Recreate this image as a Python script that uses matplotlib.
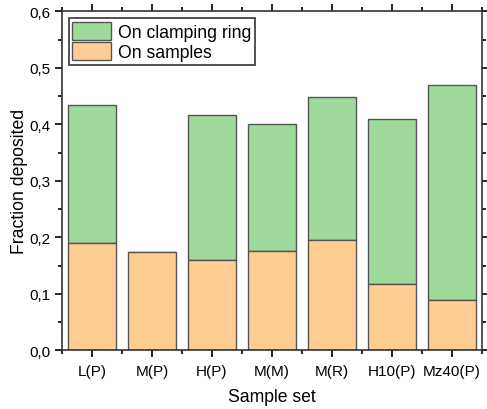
import numpy as np
import matplotlib
matplotlib.use("Agg")
import matplotlib.pyplot as plt
from matplotlib.ticker import MultipleLocator, FuncFormatter

plt.rcParams['font.family'] = ['Liberation Sans', 'DejaVu Sans']

# data
sample_sets = ["L(P)", "M(P)", "H(P)", "M(M)", "M(R)", "H10(P)", "Mz40(P)"]
on_samples = [0.190, 0.174, 0.160, 0.176, 0.196, 0.118, 0.089]
total_deposited = [0.435, 0.174, 0.416, 0.401, 0.448, 0.409, 0.469]

green = "#9fd89b"
orange = "#ffcc91"

x = np.arange(1, len(sample_sets) + 1)
ring = np.array(total_deposited) - np.array(on_samples)

fig = plt.figure(figsize=(4.87, 4.10), dpi=100)
ax = fig.add_axes([0.127, 0.143, 0.863, 0.827])

ax.bar(x, on_samples, width=0.8, color=orange, edgecolor="#555555",
       linewidth=1.0, label="On samples", zorder=2)
ax.bar(x, ring, bottom=on_samples, width=0.8, color=green,
       edgecolor="#555555", linewidth=1.0, label="On clamping ring", zorder=1)

ax.set_xlim(0.5, 7.5)
ax.set_ylim(0, 0.6)
ax.set_xticks(x)
ax.set_xticklabels(sample_sets)
ax.xaxis.set_minor_locator(MultipleLocator(0.5))
ax.yaxis.set_major_locator(MultipleLocator(0.1))
ax.yaxis.set_minor_locator(MultipleLocator(0.05))
ax.yaxis.set_major_formatter(FuncFormatter(lambda v, p: f"{v:.1f}".replace(".", ",")))

ax.tick_params(which="both", direction="out", top=True, right=True,
               labelsize=11, width=1.2)
ax.tick_params(which="major", length=5)
ax.tick_params(which="minor", length=3)
ax.tick_params(axis="x", which="major", pad=5)
for s in ax.spines.values():
    s.set_linewidth(1.2)
    s.set_color("#333333")

ax.set_xlabel("Sample set", fontsize=12.7, labelpad=7)
ax.set_ylabel("Fraction deposited", fontsize=12.7, labelpad=1)

handles, labels = ax.get_legend_handles_labels()
leg = ax.legend(handles[::-1], labels[::-1], loc="upper left", fontsize=12.7,
                frameon=True, fancybox=False, edgecolor="black",
                handlelength=2.2, handleheight=1.2, borderaxespad=0.4,
                labelspacing=0.08, borderpad=0.2, handletextpad=0.4)
leg.get_frame().set_linewidth(1.2)

plt.savefig("out.png", dpi=100)
